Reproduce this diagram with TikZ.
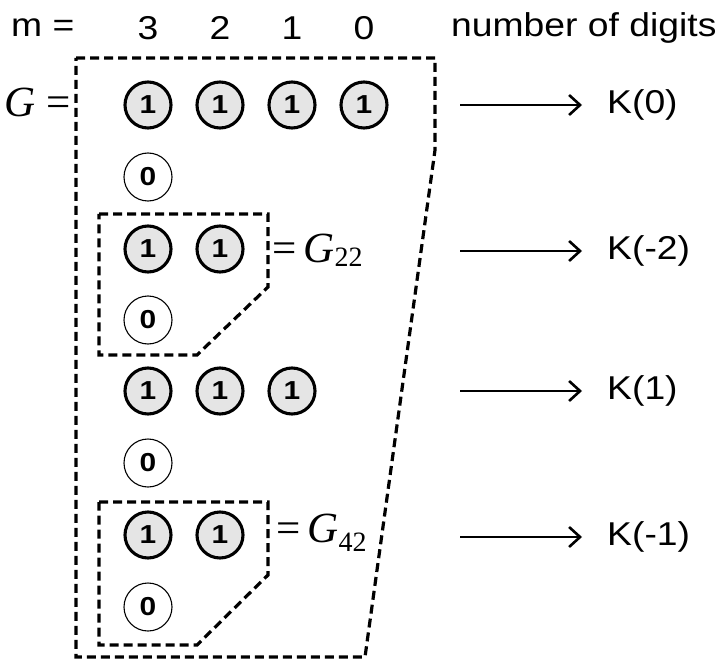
\documentclass[tikz,border=0pt]{standalone}
\usepackage{fontspec}
\setmainfont{Liberation Sans}
\newfontfamily\timesfont{Liberation Serif}
\usetikzlibrary{arrows.meta}
% wide sans text
\newcommand{\widetxt}[1]{\scalebox{1.13}[1]{#1}}
\newcommand{\digitxt}[1]{\scalebox{1.15}[1]{#1}}
\begin{document}
\begin{tikzpicture}[x=1pt,y=-1pt,
  one/.style={circle,draw,line width=3.1pt,fill=black!10,minimum size=46pt,inner sep=0pt,
    font=\fontsize{26}{26}\selectfont\bfseries},
  zero/.style={circle,draw,line width=1.1pt,fill=white,minimum size=48pt,inner sep=0pt,
    font=\fontsize{26}{26}\selectfont\bfseries},
  group/.style={draw,line width=3.2pt,dash pattern=on 9pt off 5pt},
  label/.style={inner sep=0pt,font=\fontsize{33}{33}\selectfont},
  eqlabel/.style={inner sep=0pt,font=\fontsize{43}{43}\timesfont},
  maps/.style={line width=2.6pt,-{Straight Barb[length=11pt,width=20pt,line width=2.6pt]}}]
\useasboundingbox (0,0) rectangle (719,660);

% header row
\node[label,anchor=west] (mlab) at (11,28) {\widetxt{m =}};
\node[label] (d3) at (148,28) {\widetxt{3}};
\node[label] (d2) at (220,28) {\widetxt{2}};
\node[label] (d1) at (292,28) {\widetxt{1}};
\node[label] (d0) at (364,28) {\widetxt{0}};
\node[label,anchor=west] (nd) at (451,28) {\widetxt{number of digits}};

% dashed outlines: the whole G and its two sub-groups
\draw[group] (76,58) -- (435,58) -- (435,150) -- (365,657) -- (76,657) -- cycle;
\draw[group] (99,214) -- (268,214) -- (268,287) -- (197,355) -- (99,355) -- cycle;
\draw[group] (99,502) -- (268,502) -- (268,575) -- (197,645) -- (99,645) -- cycle;

% digit circles
\node[one] (a1) at (148,105) {\digitxt{1}};
\node[one] (a2) at (220,105) {\digitxt{1}};
\node[one] (a3) at (292,105) {\digitxt{1}};
\node[one] (a4) at (364,105) {\digitxt{1}};
\node[zero] (b1) at (148,177) {\digitxt{0}};
\node[one] (c1) at (148,249) {\digitxt{1}};
\node[one] (c2) at (220,249) {\digitxt{1}};
\node[zero] (e1) at (148,320) {\digitxt{0}};
\node[one] (f1) at (148,391) {\digitxt{1}};
\node[one] (f2) at (220,391) {\digitxt{1}};
\node[one] (f3) at (292,391) {\digitxt{1}};
\node[zero] (g1) at (148,463) {\digitxt{0}};
\node[one] (h1) at (148,535) {\digitxt{1}};
\node[one] (h2) at (220,535) {\digitxt{1}};
\node[zero] (i1) at (148,607) {\digitxt{0}};

% G labels
\node[eqlabel,anchor=base east] (glab) at (71,117) {\itshape G\upshape\ =};
\node[eqlabel,anchor=base west] (g22) at (272,262)
  {=\,\itshape G\upshape\raisebox{-4pt}{\fontsize{28}{28}\selectfont 22}};
\node[eqlabel,anchor=base west] (g42) at (276,542)
  {=\,\itshape G\upshape\raisebox{-9pt}{\fontsize{28}{28}\selectfont 42}};

% results
\node[label,anchor=west] (k0) at (607,105) {\widetxt{K(0)}};
\node[label,anchor=west] (k2) at (607,251) {\widetxt{K(-2)}};
\node[label,anchor=west] (k1) at (607,391) {\widetxt{K(1)}};
\node[label,anchor=west] (km1) at (607,537) {\widetxt{K(-1)}};
\coordinate (s0) at (460,105);
\coordinate (s2) at (460,251);
\coordinate (s1) at (460,391);
\coordinate (sm1) at (460,537);
\draw[maps] (s0) -- ([xshift=-25pt]k0.west);
\draw[maps] (s2) -- ([xshift=-25pt]k2.west);
\draw[maps] (s1) -- ([xshift=-25pt]k1.west);
\draw[maps] (sm1) -- ([xshift=-25pt]km1.west);
\end{tikzpicture}
\end{document}
